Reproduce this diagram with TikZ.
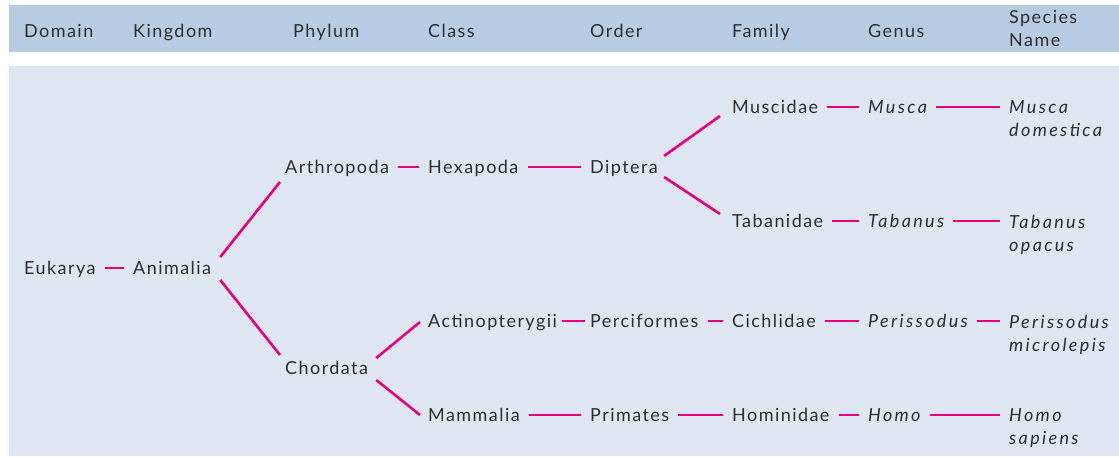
\documentclass[tikz,border=0pt]{standalone}
\usepackage{fontspec}
\setmainfont{Lato}[LetterSpace=8, ItalicFeatures={LetterSpace=13}]
\definecolor{hdr}{RGB}{183,204,227}
\definecolor{bdy}{RGB}{222,231,241}
\definecolor{mag}{RGB}{230,0,126}
\definecolor{txt}{RGB}{45,45,45}
\begin{document}
\begin{tikzpicture}[x=1pt,y=-1pt,
  font=\fontsize{18}{23}\selectfont,
  tx/.style={inner sep=0pt, anchor=west, text height=12.9pt, text depth=0pt, text=txt},
  sp/.style={inner sep=0pt, anchor=north west, align=left, text=txt},
  lk/.style={draw=mag, line width=2.6pt, shorten <=9pt, shorten >=9pt},
  br/.style={draw=mag, line width=2.6pt}]
\useasboundingbox (0,0) rectangle (1119,456);
\fill[hdr] (9,5) rectangle (1119,52);
\fill[bdy] (9,66) rectangle (1119,456);
% header
\node[tx] (hdom) at (24,31) {Domain};
\node[tx] (hkin) at (133,31) {Kingdom};
\node[tx] (hphy) at (293,31) {Phylum};
\node[tx] (hcla) at (428,31) {Class};
\node[tx] (hord) at (590,31) {Order};
\node[tx] (hfam) at (732,31) {Family};
\node[tx] (hgen) at (868,31) {Genus};
\node[sp] (hspe) at (1009,10.55) {Species\\Name};
% taxa
\node[tx] (euk) at (24,268) {Eukarya};
\node[tx] (ani) at (133,268) {Animalia};
\node[tx] (art) at (285,167) {Arthropoda};
\node[tx] (cho) at (285,368) {Chordata};
\node[tx] (hex) at (428,167) {Hexapoda};
\node[tx] (act) at (428,321) {Actinopterygii};
\node[tx] (mam) at (428,415) {Mammalia};
\node[tx] (dip) at (590,167) {Diptera};
\node[tx] (per) at (590,321) {Perciformes};
\node[tx] (pri) at (590,415) {Primates};
\node[tx] (mus) at (732,107) {Muscidae};
\node[tx] (tab) at (732,221) {Tabanidae};
\node[tx] (cic) at (732,321) {Cichlidae};
\node[tx] (hom) at (732,415) {Hominidae};
\node[tx] (gmu) at (868,107) {\itshape Musca};
\node[tx] (gta) at (868,221) {\itshape Tabanus};
\node[tx] (gpe) at (868,321) {\itshape Perissodus};
\node[tx] (gho) at (868,415) {\itshape Homo};
\node[sp] (smu) at (1009,100.55) {\itshape Musca\\\itshape domestica};
\node[sp] (sta) at (1009,214.55) {\itshape Tabanus\\\itshape opacus};
\node[sp] (spe) at (1009,314.55) {\itshape Perissodus\\\itshape microlepis};
\node[sp] (sho) at (1009,408.55) {\itshape Homo\\\itshape sapiens};
% links
\draw[lk] (euk) -- (ani);
\draw[lk] (art) -- (hex);
\draw[lk] (hex) -- (dip);
\draw[lk, shorten <=5pt, shorten >=5pt] (act) -- (per);
\draw[lk] (per) -- (cic);
\draw[lk] (mam) -- (pri);
\draw[lk] (pri) -- (hom);
\draw[lk] (mus) -- (gmu);
\draw[lk] (tab) -- (gta);
\draw[lk] (cic) -- (gpe);
\draw[lk] (hom) -- (gho);
\draw[lk] (gmu) -- (gmu -| smu.west);
\draw[lk] (gta) -- (gta -| sta.west);
\draw[lk] (gpe) -- (gpe -| spe.west);
\draw[lk] (gho) -- (gho -| sho.west);
% branches
\draw[br] ([shift={(9pt,11pt)}]ani.east) -- ([shift={(-5pt,-15pt)}]art.west);
\draw[br] ([shift={(9pt,-12pt)}]ani.east) -- ([shift={(-5pt,13pt)}]cho.west);
\draw[br] ([shift={(8pt,10pt)}]cho.east) -- ([shift={(-8pt,-1pt)}]act.west);
\draw[br] ([shift={(8pt,-12pt)}]cho.east) -- ([shift={(-8pt,0pt)}]mam.west);
\draw[br] ([shift={(6pt,11pt)}]dip.east) -- ([shift={(-12pt,-9pt)}]mus.west);
\draw[br] ([shift={(6pt,-10pt)}]dip.east) -- ([shift={(-12pt,7pt)}]tab.west);
\end{tikzpicture}
\end{document}
